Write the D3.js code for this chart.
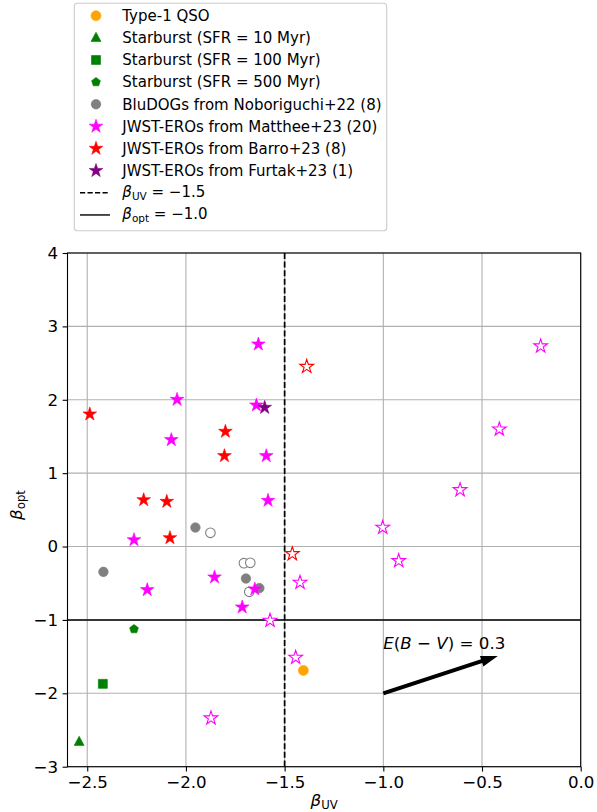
<!DOCTYPE html>
<html>
<head>
<meta charset="utf-8">
<script src="https://cdn.jsdelivr.net/npm/d3@7"></script>
<style>
  body { margin: 0; background: #fff; }
  svg { display: block; font-family: "DejaVu Sans", sans-serif; }
</style>
</head>
<body>
<svg class="svg"></svg>
<script>
const svgWidth = 597;
const svgHeight = 812;

// data: [beta_UV, beta_opt]
const qso = [[-1.405, -1.689]];
const sb10 = [[-2.541, -2.661]];
const sb100 = [[-2.421, -1.871]];
const sb500 = [[-2.263, -1.125]];
const bludogsFilled = [[-1.952, 0.259], [-2.418, -0.345], [-1.696, -0.436], [-1.628, -0.567]];
const bludogsOpen = [[-1.876, 0.187], [-1.706, -0.226], [-1.674, -0.222], [-1.679, -0.617]];
const mattheeFilled = [[-1.633, 2.757], [-2.045, 2.003], [-2.074, 1.454], [-1.643, 1.926], [-1.593, 1.236],
    [-1.584, 0.627], [-2.263, 0.091], [-2.196, -0.590], [-1.855, -0.417], [-1.651, -0.580], [-1.715, -0.826]];
const mattheeOpen = [[-0.203, 2.731], [-0.412, 1.599], [-0.611, 0.772], [-1.003, 0.259], [-0.922, -0.195],
    [-1.422, -0.490], [-1.444, -1.512], [-1.574, -1.008], [-1.873, -2.338]];
const barroFilled = [[-2.487, 1.804], [-1.800, 1.567], [-1.805, 1.236], [-2.214, 0.636], [-2.097, 0.613], [-2.081, 0.118]];
const barroOpen = [[-1.388, 2.452], [-1.461, -0.100]];
const furtak = [[-1.601, 1.894]];

const betaUVCut = -1.5;
const betaOptCut = -1.0;
const arrowStart = [-1.0, -2.0];
const arrowEnd = [-0.42, -1.49];
const arrowLabelPos = [-1.0, -1.4];

const xTicks = [-2.5, -2.0, -1.5, -1.0, -0.5, 0.0];
const yTicks = [-3, -2, -1, 0, 1, 2, 3, 4];

const legendLabels = ["Type-1 QSO", "Starburst (SFR = 10 Myr)", "Starburst (SFR = 100 Myr)",
    "Starburst (SFR = 500 Myr)", "BluDOGs from Noboriguchi+22 (8)", "JWST-EROs from Matthee+23 (20)",
    "JWST-EROs from Barro+23 (8)", "JWST-EROs from Furtak+23 (1)"];

const svg = d3.select(".svg")
    .attr("width", svgWidth)
    .attr("height", svgHeight);

const plotLeft = 67.5, plotRight = 580.7, plotTop = 253, plotBottom = 766.7;

const xScale = d3.scaleLinear().domain([-2.6, 0.0]).range([plotLeft, plotRight]);
const yScale = d3.scaleLinear().domain([-3, 4]).range([plotBottom, plotTop]);

// marker shapes
function starPath(R) {
    const r = R * 0.381966;
    const pts = [];
    for (let k = 0; k < 10; k++) {
        const a = -Math.PI / 2 + k * Math.PI / 5;
        const rr = k % 2 === 0 ? R : r;
        pts.push([rr * Math.cos(a), rr * Math.sin(a)]);
    }
    return "M" + pts.map(p => p.join(",")).join("L") + "Z";
}
function polyPath(R, n) {
    const pts = [];
    for (let k = 0; k < n; k++) {
        const a = -Math.PI / 2 + k * 2 * Math.PI / n;
        pts.push([R * Math.cos(a), R * Math.sin(a)]);
    }
    return "M" + pts.map(p => p.join(",")).join("L") + "Z";
}
const shapes = {
    circle: d3.symbol(d3.symbolCircle, Math.PI * 4.8 * 4.8)(),
    bigcircle: d3.symbol(d3.symbolCircle, Math.PI * 5 * 5)(),
    triangle: "M0,-5.6L5,3.6L-5,3.6Z",
    square: "M-4.5,-4.5L4.5,-4.5L4.5,4.5L-4.5,4.5Z",
    pentagon: polyPath(4.6, 5),
    star: starPath(7.2)
};

// grid
const plot = svg.append("g");
plot.selectAll(".xgrid").data(xTicks).enter().append("line")
    .attr("x1", d => xScale(d)).attr("x2", d => xScale(d))
    .attr("y1", plotTop).attr("y2", plotBottom)
    .attr("stroke", "#b0b0b0").attr("stroke-width", 1.1);
plot.selectAll(".ygrid").data(yTicks).enter().append("line")
    .attr("y1", d => yScale(d)).attr("y2", d => yScale(d))
    .attr("x1", plotLeft).attr("x2", plotRight)
    .attr("stroke", "#b0b0b0").attr("stroke-width", 1.1);

// reference lines
plot.append("line")
    .attr("x1", xScale(betaUVCut)).attr("x2", xScale(betaUVCut))
    .attr("y1", plotTop).attr("y2", plotBottom)
    .attr("stroke", "black").attr("stroke-width", 1.7)
    .attr("stroke-dasharray", "6,2.6");
plot.append("line")
    .attr("x1", plotLeft).attr("x2", plotRight)
    .attr("y1", yScale(betaOptCut)).attr("y2", yScale(betaOptCut))
    .attr("stroke", "black").attr("stroke-width", 1.6);

function drawPoints(data, shape, color, filled) {
    plot.append("g").selectAll("path").data(data).enter().append("path")
        .attr("d", shapes[shape])
        .attr("transform", d => `translate(${xScale(d[0])},${yScale(d[1])})`)
        .attr("fill", filled ? color : "white")
        .attr("stroke", color)
        .attr("stroke-width", filled ? 0.6 : 1.1);
}

drawPoints(qso, "bigcircle", "orange", true);
drawPoints(sb10, "triangle", "green", true);
drawPoints(sb100, "square", "green", true);
drawPoints(sb500, "pentagon", "green", true);
drawPoints(bludogsFilled, "circle", "gray", true);
drawPoints(bludogsOpen, "circle", "gray", false);
drawPoints(mattheeFilled, "star", "magenta", true);
drawPoints(mattheeOpen, "star", "magenta", false);
drawPoints(barroFilled, "star", "red", true);
drawPoints(barroOpen, "star", "red", false);
drawPoints(furtak, "star", "purple", true);

// reddening arrow
const ax0 = xScale(arrowStart[0]), ay0 = yScale(arrowStart[1]);
const ax1 = xScale(arrowEnd[0]), ay1 = yScale(arrowEnd[1]);
const len = Math.hypot(ax1 - ax0, ay1 - ay0);
const ang = Math.atan2(ay1 - ay0, ax1 - ax0) * 180 / Math.PI;
const hl = 17, hw = 5.5, sw = 2;
plot.append("path")
    .attr("transform", `translate(${ax0},${ay0}) rotate(${ang})`)
    .attr("d", `M0,${-sw}L${len - hl},${-sw}L${len - hl},${-hw}L${len},0L${len - hl},${hw}L${len - hl},${sw}L0,${sw}Z`)
    .attr("fill", "black");

const ebv = plot.append("text")
    .attr("x", xScale(arrowLabelPos[0]))
    .attr("y", yScale(arrowLabelPos[1]))
    .attr("font-size", 16.67);
ebv.append("tspan").attr("font-style", "italic").text("E");
ebv.append("tspan").text("(");
ebv.append("tspan").attr("font-style", "italic").text("B");
ebv.append("tspan").text(" − ");
ebv.append("tspan").attr("font-style", "italic").text("V");
ebv.append("tspan").text(") = 0.3");

// spines
svg.append("rect")
    .attr("x", plotLeft).attr("y", plotTop)
    .attr("width", plotRight - plotLeft).attr("height", plotBottom - plotTop)
    .attr("fill", "none").attr("stroke", "black").attr("stroke-width", 1.1);

// axes
const xAxis = svg.append("g")
    .attr("transform", `translate(0,${plotBottom})`)
    .call(d3.axisBottom(xScale).tickValues(xTicks).tickSize(4.9).tickPadding(4.5)
        .tickFormat(d => d3.format(".1f")(d).replace("-", "−")));
const yAxis = svg.append("g")
    .attr("transform", `translate(${plotLeft},0)`)
    .call(d3.axisLeft(yScale).tickValues(yTicks).tickSize(4.9).tickPadding(4.5)
        .tickFormat(d => String(d).replace("-", "−")));
[xAxis, yAxis].forEach(a => {
    a.select(".domain").remove();
    a.selectAll("line").attr("stroke", "black").attr("stroke-width", 1.1);
    a.selectAll("text").attr("font-size", 16.67).attr("font-family", "DejaVu Sans").attr("fill", "black");
});

// axis labels
const xl = svg.append("text")
    .attr("x", (plotLeft + plotRight) / 2).attr("y", 806)
    .attr("text-anchor", "middle").attr("font-size", 16.67);
xl.append("tspan").attr("font-style", "italic").text("β");
xl.append("tspan").attr("font-size", 11.7).attr("dy", 3).text("UV");

const yl = svg.append("text")
    .attr("transform", `translate(22,505) rotate(-90)`)
    .attr("text-anchor", "middle").attr("font-size", 16.67);
yl.append("tspan").attr("font-style", "italic").text("β");
yl.append("tspan").attr("font-size", 11.7).attr("dy", 3).text("opt");

// legend
const legend = svg.append("g");
legend.append("rect")
    .attr("x", 74.3).attr("y", 3.3).attr("width", 312.4).attr("height", 227.4)
    .attr("rx", 3).attr("fill", "white").attr("fill-opacity", 0.8)
    .attr("stroke", "#cccccc").attr("stroke-width", 1.1);

const legendShapes = [["bigcircle", "orange"], ["triangle", "green"], ["square", "green"], ["pentagon", "green"],
    ["circle", "gray"], ["star", "magenta"], ["star", "red"], ["star", "purple"]];
const rowY = i => 15.7 + i * 22.14;
const legendFont = 15;

legend.selectAll(".lm").data(legendShapes).enter().append("path")
    .attr("d", d => shapes[d[0]])
    .attr("transform", (d, i) => `translate(96,${rowY(i)})`)
    .attr("fill", d => d[1]).attr("stroke", d => d[1]).attr("stroke-width", 0.6);

legend.selectAll(".lt").data(legendLabels).enter().append("text")
    .attr("x", 122.3).attr("y", (d, i) => rowY(i) + 5.3)
    .attr("font-size", legendFont)
    .text(d => d);

const lineEntries = [["UV", "−1.5", "5.2,2.3"], ["opt", "−1.0", null]];
lineEntries.forEach((e, k) => {
    const y = rowY(8 + k);
    legend.append("line")
        .attr("x1", 80).attr("x2", 110).attr("y1", y).attr("y2", y)
        .attr("stroke", "black").attr("stroke-width", 1.4)
        .attr("stroke-dasharray", e[2]);
    const t = legend.append("text").attr("x", 122.3).attr("y", y + 4.5).attr("font-size", legendFont);
    t.append("tspan").attr("font-style", "italic").text("β");
    t.append("tspan").attr("font-size", 10.5).attr("dy", 3).text(e[0]);
    t.append("tspan").attr("dy", -3).text(" = " + e[1]);
});
</script>
</body>
</html>
